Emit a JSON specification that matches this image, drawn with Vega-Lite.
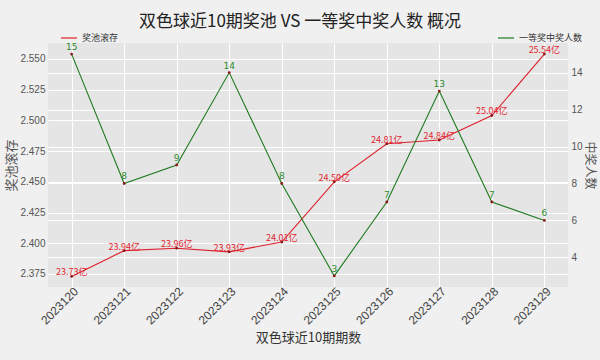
{
  "$schema": "https://vega.github.io/schema/vega-lite/v6.json",
  "width": 520,
  "height": 244,
  "autosize": "none",
  "padding": {"left": 48, "top": 43, "right": 32, "bottom": 73},
  "background": "#f0f0f0",
  "title": {
    "text": "双色球近10期奖池 VS 一等奖中奖人数 概况",
    "anchor": "middle",
    "fontSize": 17,
    "font": "Noto Sans CJK SC",
    "fontWeight": "normal",
    "color": "#222222",
    "dx": -8,
    "offset": -2
  },
  "config": {
    "view": {"fill": "#e5e5e5", "stroke": null},
    "axis": {
      "gridColor": "#ffffff",
      "gridWidth": 1,
      "grid": true,
      "domain": false,
      "ticks": false,
      "labelFont": "Liberation Sans",
      "labelColor": "#555555",
      "labelFontSize": 10,
      "titleFont": "Noto Sans CJK SC",
      "titleFontWeight": "normal",
      "titleColor": "#555555",
      "titleFontSize": 13
    },
    "legend": {
      "labelFont": "Noto Sans CJK SC",
      "labelFontSize": 9,
      "labelColor": "#333333"
    }
  },
  "data": {
    "values": [
      {"period": "2023120", "pool": 23.73, "winners": 15},
      {"period": "2023121", "pool": 23.94, "winners": 8},
      {"period": "2023122", "pool": 23.96, "winners": 9},
      {"period": "2023123", "pool": 23.93, "winners": 14},
      {"period": "2023124", "pool": 24.01, "winners": 8},
      {"period": "2023125", "pool": 24.50, "winners": 3},
      {"period": "2023126", "pool": 24.81, "winners": 7},
      {"period": "2023127", "pool": 24.84, "winners": 13},
      {"period": "2023128", "pool": 25.04, "winners": 7},
      {"period": "2023129", "pool": 25.54, "winners": 6}
    ]
  },
  "encoding": {
    "x": {
      "field": "period",
      "type": "ordinal",
      "scale": {"type": "point", "padding": 0.45},
      "axis": {
        "title": "双色球近10期期数",
        "titleFontSize": 13,
        "titleColor": "#333333",
        "labelAngle": -45,
        "labelAlign": "right",
        "labelBaseline": "middle",
        "labelFontSize": 12,
        "labelColor": "#444444",
        "labelPadding": 2,
        "labelOffset": 4,
        "titlePadding": 5,
        "grid": true
      }
    }
  },
  "layer": [
    {
      "encoding": {
        "y": {
          "field": "pool",
          "type": "quantitative",
          "scale": {"domain": [23.644, 25.63], "nice": false, "zero": false},
          "axis": {
            "title": "奖池滚存",
            "grid": true,
            "values": [23.75, 24.0, 24.25, 24.5, 24.75, 25.0, 25.25, 25.5],
            "labelExpr": "format(datum.value / 10, '.3f')",
            "labelPadding": 3,
            "titlePadding": 1
          }
        }
      },
      "layer": [
        {
          "mark": {"type": "line", "strokeWidth": 1.1},
          "encoding": {
            "color": {
              "datum": "奖池滚存",
              "scale": {"domain": ["奖池滚存"], "range": ["#dd1f2b"]},
              "legend": {
                "title": null,
                "orient": "none",
                "legendX": 12,
                "legendY": -14,
                "symbolType": "stroke",
                "symbolSize": 256,
                "symbolStrokeWidth": 1.2
              }
            }
          }
        },
        {
          "mark": {"type": "point", "filled": true, "size": 8, "color": "#8b1a1a", "opacity": 1}
        },
        {
          "mark": {
            "type": "text",
            "color": "#e3262f",
            "fontSize": 9,
            "font": "Noto Sans CJK SC",
            "align": "center",
            "baseline": "bottom",
            "dy": 1,
            "text": {"expr": "format(datum.pool, '.2f') + '亿'"}
          }
        }
      ]
    },
    {
      "encoding": {
        "y": {
          "field": "winners",
          "type": "quantitative",
          "scale": {"domain": [2.4, 15.6], "nice": false, "zero": false},
          "axis": {
            "orient": "right",
            "title": "中奖人数",
            "titleFontSize": 12,
            "grid": true,
            "values": [4, 6, 8, 10, 12, 14],
            "labelPadding": 3,
            "titlePadding": 0
          }
        }
      },
      "layer": [
        {
          "mark": {"type": "line", "strokeWidth": 1.1},
          "encoding": {
            "color": {
              "datum": "一等奖中奖人数",
              "scale": {"domain": ["一等奖中奖人数"], "range": ["#1f7a1f"]},
              "legend": {
                "title": null,
                "orient": "none",
                "legendX": 449,
                "legendY": -14,
                "symbolType": "stroke",
                "symbolSize": 256,
                "symbolStrokeWidth": 1.2
              }
            }
          }
        },
        {
          "mark": {"type": "point", "filled": true, "size": 8, "color": "#8b1a1a", "opacity": 1}
        },
        {
          "mark": {
            "type": "text",
            "color": "#2e8b2e",
            "fontSize": 9,
            "font": "DejaVu Sans",
            "align": "center",
            "baseline": "bottom",
            "dy": -2
          },
          "encoding": {"text": {"field": "winners", "type": "quantitative"}}
        }
      ]
    }
  ],
  "resolve": {"scale": {"y": "independent", "color": "independent"}, "legend": {"color": "independent"}}
}
